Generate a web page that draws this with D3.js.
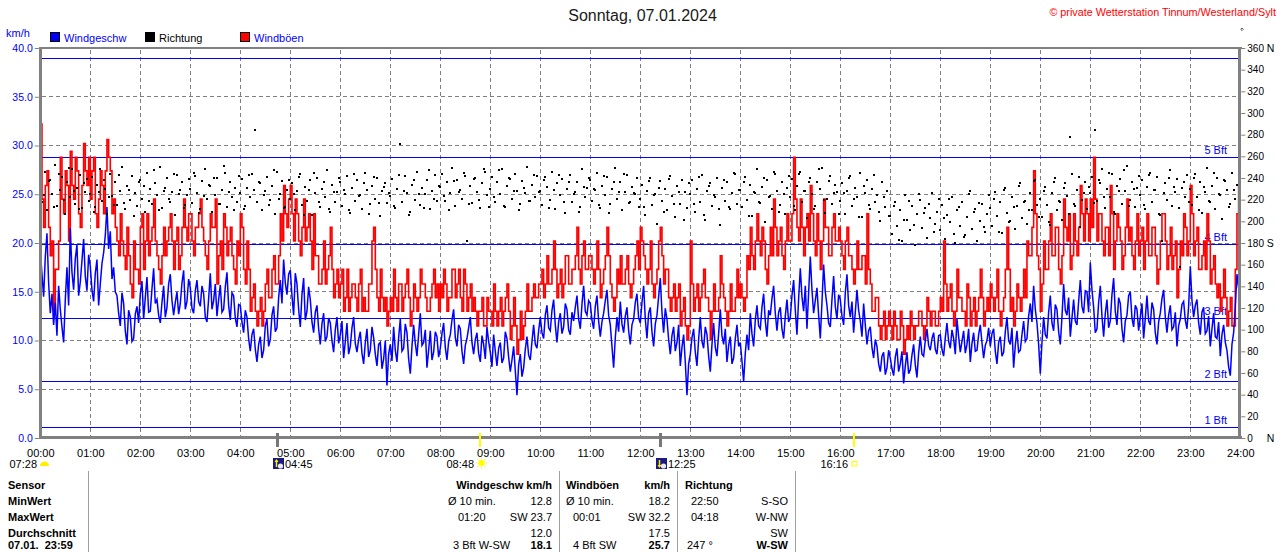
<!DOCTYPE html>
<html><head><meta charset="utf-8">
<script src="https://cdn.jsdelivr.net/npm/d3@7"></script>
<style>html,body{margin:0;padding:0;background:#fff;overflow:hidden}svg{display:block}</style>
</head><body><svg id="c" width="1280" height="552"></svg>
<script>
// ---------------- DATA ----------------
const titleText = "Sonntag, 07.01.2024";
const copyrightText = "\u00a9 private Wetterstation Tinnum/Westerland/Sylt";
const legendLabels = ["Windgeschw", "Richtung", "Windb\u00f6en"];
const hourLabels = ["00:00","01:00","02:00","03:00","04:00","05:00","06:00","07:00","08:00","09:00","10:00","11:00","12:00","13:00","14:00","15:00","16:00","17:00","18:00","19:00","20:00","21:00","22:00","23:00","24:00"];
const speedTicks = [0,5,10,15,20,25,30,35,40];
const dirTicks = [0,20,40,60,80,100,120,140,160,180,200,220,240,260,280,300,320,340,360];
const bftThresholds = [1.08, 5.76, 12.24, 19.8, 28.8, 38.88];
const bftLabels = ["1 Bft","2 Bft","3 Bft","4 Bft","5 Bft",""];
const sampleMinutes = 2;      // speed / gust sample interval
const dirSampleMinutes = 2;   // direction sample interval

// wind speed km/h (2-min samples, 30 per hour)
const speedKmh = [
19.2,16.8,14.5,18.6,21.0,15.9,12.8,14.8,11.6,13.9,10.5,15.6,13.2,11.4,9.8,14.2,17.5,13.6,21.5,17.0,15.2,18.4,19.8,14.6,16.0,18.2,20.4,16.6,15.1,18.8,
17.6,15.2,14.0,16.9,18.3,13.6,15.8,17.9,19.0,20.8,23.7,19.4,21.2,16.3,17.5,15.0,14.6,12.8,11.5,14.9,13.8,11.0,9.6,13.1,12.4,9.9,10.2,12.7,13.5,11.8,
14.8,16.1,12.2,14.4,16.5,12.9,13.0,15.3,17.4,13.8,14.2,12.6,11.8,13.9,15.6,12.4,13.4,15.8,16.8,14.1,12.6,13.9,15.0,12.7,13.8,15.9,17.2,13.2,14.0,16.3,
15.4,13.3,12.8,15.1,16.2,14.0,13.5,15.6,14.8,12.4,11.9,14.3,16.9,13.2,14.1,15.8,12.5,14.2,15.7,12.9,13.2,15.5,17.0,13.6,12.1,14.9,14.6,12.3,11.4,13.7,
13.6,11.9,10.8,13.1,12.4,10.2,8.9,10.6,11.2,9.1,7.8,9.6,10.4,8.2,9.0,11.5,12.2,9.4,10.1,12.6,13.5,10.9,11.3,14.4,16.2,13.8,18.3,15.9,14.7,16.8,
17.2,14.6,12.6,16.9,15.8,13.2,11.4,14.7,16.4,12.1,13.0,15.5,14.2,11.9,10.8,12.9,13.6,11.2,9.6,11.7,12.8,9.9,10.4,12.3,11.8,10.0,8.8,11.1,12.4,9.7,
10.6,12.0,8.2,9.9,11.8,8.6,9.4,11.3,12.4,9.7,8.8,10.1,10.9,8.7,7.6,9.8,11.2,8.3,9.0,11.4,10.3,8.6,7.4,9.6,9.8,7.1,8.1,10.0,5.4,8.6,
9.6,7.9,11.4,9.0,7.8,10.3,12.2,8.9,9.2,11.7,10.8,8.1,6.6,9.4,11.6,9.7,8.4,10.6,12.8,9.5,9.8,11.1,7.2,9.0,11.0,8.0,8.8,10.9,10.4,8.3,
9.2,10.7,11.8,9.3,8.0,9.9,10.6,12.1,13.2,10.3,9.4,11.6,11.2,8.9,7.6,9.5,10.2,11.3,12.4,9.8,8.6,10.1,10.8,8.7,7.8,10.5,9.6,8.1,11.4,9.9,
8.8,7.3,10.6,8.9,7.4,9.2,9.8,7.7,8.2,10.9,10.2,8.3,6.8,8.0,9.4,6.9,4.4,7.5,8.6,6.3,7.2,9.1,10.4,8.5,8.0,9.9,11.6,9.6,9.2,11.0,
12.4,10.8,10.2,12.6,13.6,11.3,11.0,13.1,14.2,11.6,9.8,11.9,12.8,10.7,11.4,13.8,13.2,11.1,10.6,12.9,12.0,13.4,14.6,12.2,11.2,13.7,15.6,13.0,12.6,14.1,
13.8,12.1,11.2,13.5,14.6,12.0,10.4,11.9,12.8,14.1,15.2,12.6,11.6,9.4,7.2,10.3,12.4,10.9,14.0,11.7,10.8,12.5,13.4,11.0,9.6,11.6,12.2,13.9,14.8,12.3,
11.8,13.9,15.6,12.2,10.2,12.8,13.4,10.9,9.4,11.7,12.6,14.5,16.4,12.9,10.8,13.3,12.2,10.1,8.6,10.5,11.4,8.9,9.8,11.6,7.4,9.3,10.6,7.8,4.4,7.6,
8.6,10.3,11.2,8.8,7.4,10.1,12.4,9.9,9.2,11.4,10.6,8.4,6.8,9.6,11.8,9.3,8.4,10.7,13.2,10.5,9.6,11.2,7.8,9.5,10.4,7.6,8.2,10.2,11.6,9.4,
9.8,7.9,5.8,8.7,10.6,9.0,12.8,10.7,9.4,12.1,13.6,11.5,11.2,13.4,14.8,12.0,10.4,13.1,12.6,14.3,15.6,12.8,11.0,12.9,13.4,11.2,10.2,12.5,14.2,11.9,
12.4,14.6,16.2,13.1,10.6,14.3,17.4,14.5,13.0,15.6,11.2,14.9,18.6,15.2,12.8,14.1,15.4,12.6,10.2,13.9,17.8,15.0,13.6,11.8,11.4,14.2,16.6,13.5,12.2,14.7,
14.2,12.5,11.6,14.9,16.8,13.6,12.4,14.0,10.8,12.9,15.2,13.1,12.0,10.4,13.8,11.6,9.6,11.0,11.4,9.3,8.2,10.1,9.4,7.6,6.8,8.4,8.8,6.5,7.2,9.0,
8.2,7.1,6.4,8.3,9.2,6.8,7.6,8.9,5.6,7.4,8.8,6.6,7.0,8.5,9.6,7.5,6.2,8.7,10.4,8.6,8.4,10.0,11.2,9.5,9.0,10.2,10.8,9.1,8.6,10.5,
10.6,9.1,8.4,10.3,11.8,9.9,9.2,11.1,10.2,8.6,12.2,10.4,8.8,9.9,11.0,8.7,9.6,11.2,7.8,9.7,10.8,8.9,9.0,10.6,11.6,9.8,8.2,9.5,10.0,11.3,
9.4,10.7,11.2,8.9,7.6,9.8,10.4,8.4,8.8,10.9,12.4,10.0,9.6,11.3,7.2,9.5,11.0,8.8,9.0,10.6,12.0,9.9,10.2,12.5,13.8,11.9,15.6,13.2,11.8,9.6,
6.6,9.8,12.4,10.6,10.2,12.9,14.6,11.8,11.0,13.7,13.2,10.9,9.6,12.4,15.8,13.1,12.6,14.4,10.4,12.3,14.2,12.0,11.6,14.0,16.2,13.5,12.8,15.1,15.0,12.9,
18.0,15.2,13.4,10.8,11.2,13.9,15.6,12.5,10.4,12.8,14.2,11.3,12.0,14.7,16.4,13.0,11.6,14.4,13.8,11.2,9.8,12.0,12.6,14.6,15.0,12.3,11.4,13.6,13.2,11.0,
12.4,13.8,10.2,12.3,14.6,12.0,11.6,13.9,13.2,10.8,9.6,11.9,12.8,14.3,15.2,12.4,10.8,12.6,13.6,11.1,11.4,12.9,9.4,11.5,12.2,13.7,14.0,12.1,11.2,13.5,
17.6,14.1,12.4,13.6,14.2,11.8,10.6,12.9,13.4,10.7,11.0,12.5,9.4,11.2,12.8,10.4,10.2,11.9,8.4,10.6,11.6,9.8,9.0,7.3,6.4,9.6,10.8,13.5,16.8,15.4
];

// gusts km/h (2-min samples, 30 per hour)
const gustKmh = [
32.2,24.5,21.6,25.9,27.4,21.6,18.7,20.2,13.0,17.3,17.3,20.2,28.8,24.5,23.0,27.4,25.9,20.2,29.4,25.9,24.5,28.8,27.4,23.0,21.6,25.9,30.2,27.4,25.9,28.8,
24.5,27.4,28.8,23.0,21.6,24.5,27.4,25.9,23.0,27.4,30.6,28.8,27.4,23.0,24.5,21.6,20.2,18.7,23.0,20.2,18.7,17.3,21.6,18.7,15.8,14.4,20.2,17.3,17.3,15.8,
21.6,23.0,17.3,20.2,23.0,18.7,20.2,21.6,24.5,20.2,18.7,17.3,15.8,18.7,21.6,18.7,20.2,21.6,23.0,20.2,17.3,20.2,21.6,17.3,18.7,21.6,24.5,21.6,20.2,23.0,
23.0,20.2,18.7,21.6,21.6,23.0,24.5,21.6,20.2,18.7,17.3,20.2,23.0,21.6,21.6,24.5,15.8,18.7,20.2,17.3,23.0,21.6,18.7,20.2,21.6,18.7,17.3,15.8,20.2,18.7,
23.0,21.6,17.3,15.8,20.2,17.3,13.0,14.4,15.8,13.0,11.5,13.0,14.4,11.5,13.0,15.8,17.3,14.4,14.4,17.3,18.7,15.8,15.8,18.7,23.0,20.2,25.9,23.0,21.6,24.5,
25.9,23.0,20.2,24.5,23.0,20.2,18.7,21.6,24.5,20.2,21.6,23.0,20.2,17.3,23.0,18.7,18.7,15.8,15.8,17.3,20.2,15.8,17.3,18.7,21.6,17.3,14.4,15.8,17.3,14.4,
15.8,17.3,13.0,14.4,17.3,13.0,14.4,15.8,15.8,14.4,13.0,15.8,17.3,13.0,14.4,13.0,13.0,15.8,15.8,20.2,21.6,17.3,14.4,13.0,17.3,14.4,13.0,14.4,11.5,13.0,
14.4,13.0,17.3,14.4,13.0,15.8,15.8,13.0,14.4,15.8,17.3,14.4,11.5,13.0,15.8,14.4,13.0,14.4,17.3,15.8,15.8,14.4,13.0,13.0,14.4,15.8,17.3,14.4,15.8,13.0,
15.8,14.4,17.3,15.8,13.0,14.4,14.4,17.3,17.3,14.4,15.8,17.3,14.4,13.0,17.3,15.8,13.0,14.4,15.8,13.0,14.4,13.0,11.5,13.0,13.0,14.4,11.5,11.5,14.4,13.0,
13.0,11.5,15.8,13.0,11.5,13.0,14.4,11.5,13.0,14.4,15.8,13.0,10.1,11.5,14.4,11.5,8.6,10.1,13.0,10.1,11.5,13.0,15.8,13.0,13.0,14.4,15.8,14.4,14.4,15.8,
15.8,17.3,14.4,15.8,18.7,15.8,15.8,17.3,20.2,17.3,14.4,15.8,17.3,14.4,15.8,18.7,18.7,15.8,15.8,17.3,17.3,18.7,21.6,17.3,15.8,18.7,20.2,17.3,17.3,18.7,
18.7,17.3,15.8,17.3,20.2,17.3,14.4,15.8,17.3,18.7,21.6,18.7,15.8,14.4,13.0,14.4,17.3,15.8,18.7,15.8,15.8,17.3,18.7,15.8,14.4,15.8,17.3,18.7,20.2,17.3,
21.6,20.2,18.7,17.3,15.8,17.3,20.2,15.8,14.4,15.8,17.3,20.2,21.6,18.7,15.8,17.3,17.3,14.4,13.0,14.4,15.8,13.0,14.4,15.8,11.5,13.0,14.4,11.5,10.1,11.5,
20.2,15.8,13.0,14.4,15.8,13.0,14.4,15.8,17.3,14.4,14.4,13.0,10.1,13.0,15.8,13.0,13.0,14.4,18.7,15.8,14.4,13.0,11.5,13.0,15.8,13.0,13.0,14.4,17.3,14.4,
15.8,14.4,13.0,14.4,18.7,17.3,21.6,18.7,17.3,20.2,23.0,20.2,18.7,21.6,20.2,17.3,15.8,18.7,21.6,18.7,24.5,21.6,18.7,20.2,21.6,18.7,17.3,20.2,23.0,20.2,
20.2,23.0,28.8,24.5,21.6,20.2,24.5,21.6,18.7,21.6,23.0,20.2,25.9,23.0,20.2,18.7,23.0,20.2,17.3,20.2,24.5,21.6,21.6,18.7,18.7,21.6,23.0,20.2,20.2,21.6,
20.2,18.7,17.3,20.2,21.6,18.7,18.7,17.3,15.8,17.3,20.2,17.3,17.3,18.7,18.7,15.8,23.0,17.3,15.8,13.0,13.0,14.4,14.4,11.5,10.1,11.5,13.0,10.1,11.5,13.0,
11.5,10.1,13.0,11.5,10.1,10.1,13.0,11.5,8.6,10.1,11.5,10.1,13.0,11.5,10.1,11.5,11.5,13.0,13.0,11.5,10.1,11.5,14.4,13.0,11.5,13.0,13.0,11.5,11.5,13.0,
14.4,13.0,20.2,15.8,13.0,14.4,15.8,13.0,11.5,13.0,17.3,14.4,14.4,13.0,13.0,11.5,15.8,14.4,11.5,13.0,14.4,11.5,13.0,14.4,17.3,14.4,11.5,13.0,14.4,13.0,
15.8,14.4,13.0,14.4,17.3,13.0,11.5,13.0,14.4,17.3,21.6,17.3,13.0,14.4,11.5,13.0,15.8,14.4,13.0,14.4,17.3,14.4,20.2,18.7,18.7,21.6,27.4,23.0,18.7,17.3,
13.0,15.8,20.2,17.3,17.3,20.2,23.0,18.7,18.7,21.6,21.6,17.3,15.8,18.7,24.5,21.6,20.2,23.0,17.3,18.7,23.0,20.2,18.7,21.6,25.9,23.0,20.2,24.5,23.0,20.2,
24.5,21.6,28.8,24.5,20.2,23.0,23.0,20.2,18.7,21.6,21.6,18.7,25.9,23.0,17.3,20.2,23.0,21.6,20.2,17.3,18.7,21.6,24.5,20.2,21.6,18.7,17.3,20.2,23.0,18.7,
20.2,21.6,17.3,20.2,23.0,18.7,18.7,21.6,21.6,18.7,15.8,17.3,20.2,23.0,23.0,20.2,17.3,18.7,21.6,17.3,18.7,20.2,14.4,17.3,20.2,18.7,23.0,21.6,18.7,20.2,
25.9,23.0,18.7,20.2,21.6,17.3,17.3,18.7,20.2,17.3,23.0,20.2,15.8,17.3,18.7,15.8,14.4,15.8,13.0,14.4,17.3,14.4,11.5,13.0,14.4,11.5,11.5,17.3,23.0,25.9
];

// wind direction degrees (2-min samples, 30 per hour)
const directionDeg = [
232,218,224,246,210,237,238,225,213,252,214,244,229,241,220,207,236,249,222,248,228,216,231,211,243,212,235,227,239,219,
225,241,209,213,234,227,248,219,238,230,207,222,244,223,215,236,215,243,228,250,217,211,233,229,220,242,205,226,214,236,
238,221,233,209,245,219,230,216,247,235,224,210,250,212,228,231,240,221,218,227,244,206,243,225,229,236,212,215,224,239,
230,217,245,242,226,208,211,237,223,248,221,234,233,209,240,224,240,216,216,229,251,245,213,227,236,222,210,231,218,242,
226,239,211,214,231,243,222,244,229,284,218,236,235,210,224,228,241,215,220,233,247,207,246,221,225,237,212,213,229,238,
221,235,225,210,228,241,244,215,206,232,219,229,238,206,245,226,240,218,213,230,236,222,247,211,209,234,227,218,227,240,
236,214,229,225,242,210,208,231,244,219,238,223,224,211,235,245,229,207,216,233,241,221,240,217,205,228,232,235,217,226,
223,239,214,212,230,243,271,218,228,242,226,206,209,234,238,220,246,225,215,231,212,225,238,247,211,228,221,243,219,233,
232,244,223,219,236,210,226,249,237,214,238,227,229,221,245,242,182,216,233,217,239,240,227,220,212,235,248,246,224,213,
230,241,222,218,236,247,225,248,214,213,233,240,239,221,228,244,228,210,216,237,231,226,250,219,219,234,243,222,242,227,
228,215,238,241,232,212,220,246,229,211,235,243,224,239,218,208,230,236,243,218,225,227,236,209,213,248,232,222,231,240,
238,219,230,229,245,215,212,233,242,224,241,208,216,230,236,249,221,227,236,210,244,227,243,217,218,232,226,225,240,213,
221,234,213,206,228,237,240,215,224,225,198,231,237,219,209,230,210,239,242,223,216,204,233,227,216,238,201,227,212,235,
225,238,216,209,230,241,218,243,206,201,228,233,235,214,224,222,240,211,197,231,238,219,236,213,211,226,245,244,216,229,
229,213,236,241,220,205,234,205,227,226,248,218,217,232,240,199,238,222,223,211,246,244,228,209,215,236,225,207,231,242,
222,239,214,210,233,244,246,218,228,228,203,236,240,225,211,214,236,248,230,249,220,208,221,237,242,216,226,234,227,207,
219,235,226,207,228,240,242,214,221,231,222,204,245,204,233,226,238,215,211,230,243,218,224,209,200,236,222,213,228,205,
205,188,214,218,196,183,210,182,201,224,201,219,192,214,197,178,207,225,220,194,208,212,185,216,203,226,190,198,209,221,
192,215,203,184,206,221,199,222,188,180,210,213,196,218,186,187,204,225,228,193,209,211,182,217,200,216,195,190,207,224,
212,196,221,227,205,190,218,189,229,231,208,199,200,222,213,193,214,233,235,203,218,219,198,210,226,210,237,238,215,204,
221,204,228,232,215,199,197,226,236,240,210,219,218,201,231,235,223,207,278,244,216,214,229,241,195,220,226,236,211,232,
226,241,217,284,219,238,235,248,222,212,230,245,222,244,209,207,233,228,239,216,247,228,251,214,220,236,230,213,231,242,
224,238,215,211,232,243,245,218,229,229,241,207,206,182,226,235,220,240,247,214,232,227,239,212,158,231,236,222,243,218,
230,215,240,244,222,210,236,208,232,227,249,219,218,233,245,211,240,225,224,202,238,237,229,213,216,245,229,221,234,246
];

// sun / moon events (minutes of day)
const moonEvents = [{t: 285, label: "04:45", up: true}, {t: 745, label: "12:25", up: false}];
const sunEvents = [{t: 528, label: "08:48", rise: true}, {t: 976, label: "16:16", rise: false}];
const dayLengthLabel = "07:28";

// summary table
const tableRowLabels = ["Sensor", "MinWert", "MaxWert", "Durchschnitt", "07.01.\u00a0\u00a023:59"];
const speedHeader = "Windgeschw km/h";
const speedCells = [["\u00d8 10 min.", "12.8"], ["01:20", "SW 23.7"], ["", "12.0"], ["3 Bft W-SW", "18.1"]];
const gustHeader = ["Windb\u00f6en", "km/h"];
const gustCells = [["\u00d8 10 min.", "18.2"], ["00:01", "SW 32.2"], ["", "17.5"], ["4 Bft SW", "25.7"]];
const dirHeader = "Richtung";
const dirCells = [["22:50", "S-SO"], ["04:18", "W-NW"], ["", "SW"], ["247 \u00b0", "W-SW"]];

// ---------------- DRAW ----------------
const FONT = "'Liberation Sans', Arial, sans-serif";
const BLUE = "#0000ff", RED = "#ff0000", GRAY = "#808080";
const svg = d3.select("#c").attr("font-family", FONT);

const X0 = 40.3, X1 = 1240.3, Y0 = 438, Y1 = 48;
const x = d3.scaleLinear().domain([0, 1440]).range([X0, X1]);
const y = d3.scaleLinear().domain([0, 40]).range([Y0, Y1]);
const yDir = d3.scaleLinear().domain([0, 360]).range([Y0, Y1]);

// title + copyright
svg.append("text").attr("x", 642.5).attr("y", 20.5).attr("text-anchor", "middle")
  .attr("font-size", 16).attr("fill", "#1a1a1a").text(titleText);
svg.append("text").attr("x", 1276).attr("y", 16).attr("text-anchor", "end").attr("font-size", 10.8).attr("fill", RED)
  .text(copyrightText);
svg.append("path").attr("d", "M1242,28 L1243.3,29.3 L1242,30.6 L1240.7,29.3 Z").attr("fill", "none").attr("stroke", "#333").attr("stroke-width", 0.8);

// unit + legend
svg.append("text").attr("x", 6).attr("y", 37).attr("font-size", 11).attr("fill", BLUE).text("km/h");
const legColors = [BLUE, "#000", RED];
const legX = [50, 145, 240];
const legTextColors = [BLUE, "#000", BLUE];
legendLabels.forEach((l, i) => {
  svg.append("rect").attr("x", legX[i] + 0.5).attr("y", 32.5).attr("width", 9).attr("height", 9)
    .attr("fill", legColors[i]).attr("stroke", "#000").attr("stroke-width", 1).attr("shape-rendering", "crispEdges");
  svg.append("text").attr("x", legX[i] + 14).attr("y", 41.8).attr("font-size", 11).attr("fill", legTextColors[i]).text(l);
});

// grid
const grid = svg.append("g").attr("stroke", GRAY).attr("stroke-width", 1).attr("stroke-dasharray", "4,3").attr("shape-rendering", "crispEdges");
grid.selectAll("line.v").data(d3.range(60, 1440, 60)).join("line").attr("class", "v")
  .attr("x1", d => Math.floor(x(d)) + 0.5).attr("x2", d => Math.floor(x(d)) + 0.5).attr("y1", Y1 + 2).attr("y2", Y0 - 1);
grid.selectAll("line.h").data(speedTicks.filter(d => d > 0 && d < 40)).join("line").attr("class", "h")
  .attr("y1", d => Math.floor(y(d)) + 0.5).attr("y2", d => Math.floor(y(d)) + 0.5).attr("x1", X0 + 2).attr("x2", X1 - 1);

// Beaufort lines
const bft = svg.append("g");
bft.selectAll("line").data(bftThresholds).join("line")
  .attr("x1", X0 + 1).attr("x2", X1 - 1)
  .attr("y1", d => Math.floor(y(d)) + 0.5).attr("y2", d => Math.floor(y(d)) + 0.5)
  .attr("stroke", BLUE).attr("stroke-width", 1.2).attr("shape-rendering", "crispEdges");
bft.selectAll("text").data(bftThresholds).join("text")
  .attr("x", 1227).attr("y", d => Math.floor(y(d)) - 3.5).attr("text-anchor", "end")
  .attr("font-size", 11).attr("fill", BLUE).text((d, i) => bftLabels[i]);

// gusts (step)
const gustPts = gustKmh.map((v, i) => [i * sampleMinutes, v]);
svg.append("path").datum(gustPts)
  .attr("d", d3.line().x(d => x(d[0])).y(d => y(d[1])).curve(d3.curveStepAfter))
  .attr("fill", "none").attr("stroke", RED).attr("stroke-width", 1.6);

// speed
const speedPts = speedKmh.map((v, i) => [i * sampleMinutes, v]);
svg.append("path").datum(speedPts)
  .attr("d", d3.line().x(d => x(d[0])).y(d => y(d[1])))
  .attr("fill", "none").attr("stroke", BLUE).attr("stroke-width", 1.5);

// direction dots
svg.append("g").selectAll("rect").data(directionDeg).join("rect")
  .attr("x", (d, i) => Math.round(x(i * dirSampleMinutes)) - 1)
  .attr("y", d => Math.round(yDir(d)) - 1)
  .attr("width", 2).attr("height", 2).attr("fill", "#000").attr("shape-rendering", "crispEdges");

// frame
const frame = svg.append("g").attr("stroke", GRAY).attr("shape-rendering", "crispEdges");
frame.append("line").attr("x1", X0 - 1.5).attr("x2", X1 + 1.5).attr("y1", Y1).attr("y2", Y1).attr("stroke-width", 2);
frame.append("line").attr("x1", X0 - 1.5).attr("x2", X1 + 1.5).attr("y1", Y0 - 0.5).attr("y2", Y0 - 0.5).attr("stroke-width", 3);
frame.append("line").attr("x1", X0).attr("x2", X0).attr("y1", Y1 - 1).attr("y2", Y0 + 1).attr("stroke-width", 3);
frame.append("line").attr("x1", X1 - 0.5).attr("x2", X1 - 0.5).attr("y1", Y1 - 1).attr("y2", Y0 + 1).attr("stroke-width", 3);

// left axis
const gL = svg.append("g").attr("transform", `translate(${X0 - 1.5},0)`)
  .call(d3.axisLeft(y).tickValues(speedTicks).tickFormat(d3.format(".1f")).tickSize(4).tickPadding(2));
gL.select(".domain").remove();
gL.attr("font-family", FONT).attr("font-size", 10.5);
gL.selectAll("line").attr("stroke", GRAY);
gL.selectAll("text").attr("fill", BLUE);

// right axis
const gR = svg.append("g").attr("transform", `translate(${X1 + 1},0)`)
  .call(d3.axisRight(yDir).tickValues(dirTicks).tickSize(4).tickPadding(2));
gR.select(".domain").remove();
gR.attr("font-family", FONT).attr("font-size", 10);
gR.selectAll("line").attr("stroke", GRAY);
gR.selectAll("text").attr("fill", "#000");
gR.selectAll(".tick").filter(d => d === 0 || d === 360 || d === 180).append("text")
  .attr("x", 25.5).attr("dy", "0.32em").attr("fill", "#000").attr("text-anchor", "start")
  .attr("font-size", 10.5).text(d => d === 180 ? "S" : "N");

// x axis
const gX = svg.append("g").attr("transform", `translate(0,${Y0})`)
  .call(d3.axisBottom(x).tickValues(d3.range(0, 1441, 60)).tickFormat((d, i) => hourLabels[i]).tickSize(0).tickPadding(11));
gX.select(".domain").remove();
gX.attr("font-family", FONT).attr("font-size", 11);
gX.selectAll("text").attr("fill", "#000");

// sun / moon markers
moonEvents.forEach(e => {
  const xe = Math.round(x(e.t)) - 0.5;
  svg.append("line").attr("x1", xe).attr("x2", xe).attr("y1", 433).attr("y2", 447).attr("stroke", "#777").attr("stroke-width", 3).attr("shape-rendering", "crispEdges");
  const ix = Math.round(x(e.t)) - 5;
  svg.append("rect").attr("x", ix).attr("y", 458).attr("width", 11).attr("height", 11).attr("fill", "#1a1a80");
  svg.append("circle").attr("cx", ix + 7.5).attr("cy", 466).attr("r", 2.6).attr("fill", "#e8e8f0");
  const ay = e.up ? [467, 460] : [460, 467];
  svg.append("line").attr("x1", ix + 3.5).attr("x2", ix + 3.5).attr("y1", ay[0]).attr("y2", ay[1]).attr("stroke", "#ffee00").attr("stroke-width", 1.5);
  svg.append("path").attr("d", e.up ? `M${ix + 1.5},${462} L${ix + 3.5},${459} L${ix + 5.5},${462}Z` : `M${ix + 1.5},${465} L${ix + 3.5},${468} L${ix + 5.5},${465}Z`).attr("fill", "#ffee00");
  svg.append("text").attr("x", ix + 12).attr("y", 467.5).attr("font-size", 11).attr("fill", "#000").text(e.label);
});
sunEvents.forEach(e => {
  const xe = Math.round(x(e.t));
  svg.append("line").attr("x1", xe).attr("x2", xe).attr("y1", 433).attr("y2", 447).attr("stroke", "#ffff00").attr("stroke-width", 2).attr("shape-rendering", "crispEdges");
  svg.append("text").attr("x", xe - 6).attr("y", 467.5).attr("text-anchor", "end").attr("font-size", 11).attr("fill", "#000").text(e.label);
  if (e.rise) {
    const cx = xe + 1.5, cy = 463;
    svg.append("circle").attr("cx", cx).attr("cy", cy).attr("r", 3.2).attr("fill", "#ffff00");
    d3.range(8).forEach(k => {
      const a = k * Math.PI / 4;
      svg.append("line").attr("x1", cx + Math.cos(a) * 4.2).attr("y1", cy + Math.sin(a) * 4.2)
        .attr("x2", cx + Math.cos(a) * 5.8).attr("y2", cy + Math.sin(a) * 5.8).attr("stroke", "#ffee44").attr("stroke-width", 1);
    });
  } else {
    svg.append("rect").attr("x", xe - 2).attr("y", 461.5).attr("width", 5).attr("height", 4.5).attr("fill", "none").attr("stroke", "#ffff00").attr("stroke-width", 1);
  }
});
// day length with half sun
svg.append("text").attr("x", 9.5).attr("y", 467.5).attr("font-size", 11).attr("fill", "#000").text(dayLengthLabel);
svg.append("path").attr("d", "M40,466 A4.5,4.5 0 0 1 49,466 Z").attr("fill", "#ffee00");

// table
const tbl = svg.append("g").attr("font-size", 11).attr("fill", "#000");
[88, 559, 677, 795].forEach(xv => {
  tbl.append("line").attr("x1", xv + 0.5).attr("x2", xv + 0.5).attr("y1", 471).attr("y2", 552).attr("stroke", "#a0a0a0").attr("shape-rendering", "crispEdges");
});
const rowY = [488.5, 504.5, 520.5, 536.5, 549.3];
tableRowLabels.forEach((t, i) => tbl.append("text").attr("x", 8).attr("y", rowY[i]).attr("font-weight", "bold").text(t));
tbl.append("text").attr("x", 552).attr("y", rowY[0]).attr("text-anchor", "end").attr("font-weight", "bold").text(speedHeader);
tbl.append("text").attr("x", 566).attr("y", rowY[0]).attr("font-weight", "bold").text(gustHeader[0]);
tbl.append("text").attr("x", 670).attr("y", rowY[0]).attr("text-anchor", "end").attr("font-weight", "bold").text(gustHeader[1]);
tbl.append("text").attr("x", 685).attr("y", rowY[0]).attr("font-weight", "bold").text(dirHeader);
const speedLeftX = [448, 458, 448, 453];
const gustLeftX = [566, 573, 566, 573];
const dirLeftX = [691, 691, 691, 687];
function cells(arr, leftX, rightX) {
  arr.forEach((c, i) => {
    const last = i === arr.length - 1;
    if (c[0]) tbl.append("text").attr("x", leftX[i]).attr("y", rowY[i + 1]).text(c[0]);
    tbl.append("text").attr("x", rightX).attr("y", rowY[i + 1]).attr("text-anchor", "end")
      .attr("font-weight", last ? "bold" : "normal").text(c[1]);
  });
}
cells(speedCells, speedLeftX, 552);
cells(gustCells, gustLeftX, 670);
cells(dirCells, dirLeftX, 788);
</script></body></html>
